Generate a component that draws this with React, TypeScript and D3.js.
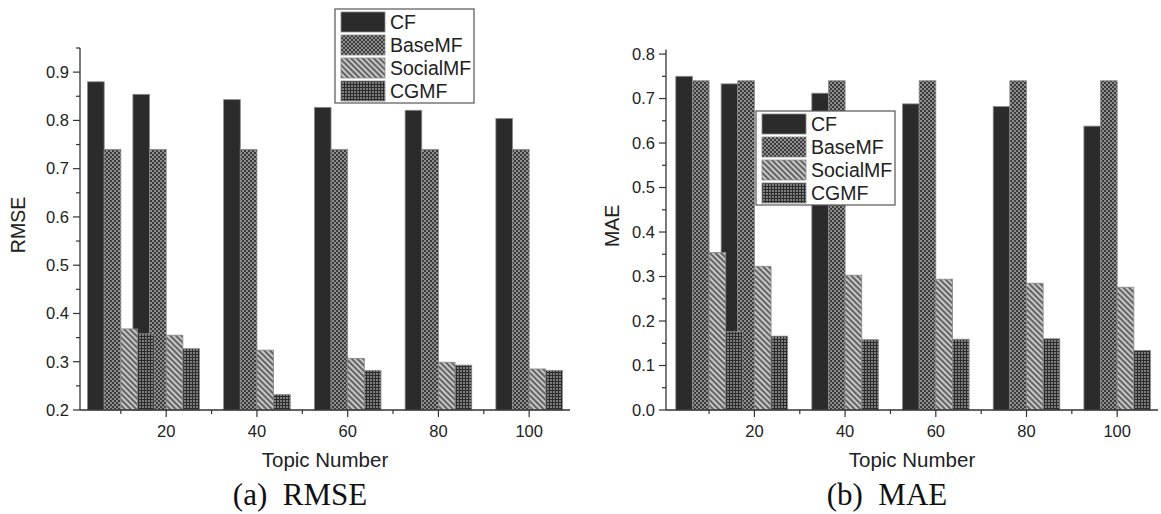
import React from "react";
import * as d3 from "d3";

const topics = [10, 20, 40, 60, 80, 100];
const seriesNames = ["CF", "BaseMF", "SocialMF", "CGMF"];
const xMajorTicks = [20, 40, 60, 80, 100];
const xMinorTicks = [10, 30, 50, 70, 90];

const rmseCF = [0.880, 0.854, 0.843, 0.827, 0.821, 0.804];
const rmseBaseMF = [0.740, 0.740, 0.740, 0.740, 0.740, 0.740];
const rmseSocialMF = [0.368, 0.355, 0.324, 0.307, 0.299, 0.285];
const rmseCGMF = [0.358, 0.327, 0.232, 0.282, 0.293, 0.282];

const maeCF = [0.750, 0.733, 0.712, 0.688, 0.682, 0.638];
const maeBaseMF = [0.740, 0.740, 0.740, 0.740, 0.740, 0.740];
const maeSocialMF = [0.354, 0.323, 0.303, 0.294, 0.285, 0.276];
const maeCGMF = [0.176, 0.166, 0.158, 0.159, 0.160, 0.134];

const rmseYMajor = [0.2, 0.3, 0.4, 0.5, 0.6, 0.7, 0.8, 0.9];
const rmseYMinor = [0.25, 0.35, 0.45, 0.55, 0.65, 0.75, 0.85, 0.95];
const maeYMajor = [0.0, 0.1, 0.2, 0.3, 0.4, 0.5, 0.6, 0.7, 0.8];
const maeYMinor = [0.05, 0.15, 0.25, 0.35, 0.45, 0.55, 0.65, 0.75];

const BAR_UNITS = 3.67;
const fills = ["#2b2b2b", "url(#pBase)", "url(#pSocial)", "url(#pCGMF)"];
const SANS = "'Liberation Sans', Arial, sans-serif";
const SERIF = "'Liberation Serif', 'Times New Roman', serif";

type PanelProps = {
  xScale: d3.ScaleLinear<number, number>;
  yScale: d3.ScaleLinear<number, number>;
  data: number[][];
  yMajor: number[];
  yMinor: number[];
  yLabel: string;
  yLabelX: number;
  title: string;
  titleX: number;
  legendX: number;
  legendY: number;
};

function Panel({ xScale, yScale, data, yMajor, yMinor, yLabel, yLabelX, title, titleX, legendX, legendY }: PanelProps) {
  const [x0, x1] = xScale.range();
  const [yb, yt] = yScale.range();
  const base = yScale.domain()[0];
  const bw = xScale(BAR_UNITS) - xScale(0);
  const axisColor = "#333";
  const cx = (x0 + x1) / 2;
  return (
    <g>
      {data.map((vals, s) => (
        <g key={s}>
          {vals.map((v, i) => {
            const left = xScale(topics[i] - 2 * BAR_UNITS + s * BAR_UNITS);
            return (
              <rect
                key={i}
                x={left}
                y={yScale(v)}
                width={bw}
                height={yScale(base) - yScale(v)}
                fill={fills[s]}
                stroke="#8a8a8a"
                strokeWidth={0.8}
              />
            );
          })}
        </g>
      ))}
      <line x1={x0} x2={x0} y1={yt} y2={yb} stroke={axisColor} strokeWidth={1.3} />
      <line x1={x0} x2={x1} y1={yb} y2={yb} stroke={axisColor} strokeWidth={1.3} />
      {yMajor.map((t) => (
        <g key={"ym" + t}>
          <line x1={x0 - 7} x2={x0} y1={yScale(t)} y2={yScale(t)} stroke={axisColor} strokeWidth={1.2} />
          <text x={x0 - 11} y={yScale(t)} dy="0.35em" textAnchor="end" fontFamily={SANS} fontSize={16.5} fill="#222">
            {t.toFixed(1)}
          </text>
        </g>
      ))}
      {yMinor.map((t) => (
        <line key={"yn" + t} x1={x0 - 4} x2={x0} y1={yScale(t)} y2={yScale(t)} stroke={axisColor} strokeWidth={1.2} />
      ))}
      {xMajorTicks.map((t) => (
        <g key={"xm" + t}>
          <line x1={xScale(t)} x2={xScale(t)} y1={yb} y2={yb + 7} stroke={axisColor} strokeWidth={1.2} />
          <text x={xScale(t)} y={yb + 27} textAnchor="middle" fontFamily={SANS} fontSize={16.5} fill="#222">
            {t}
          </text>
        </g>
      ))}
      {xMinorTicks.map((t) => (
        <line key={"xn" + t} x1={xScale(t)} x2={xScale(t)} y1={yb} y2={yb + 4} stroke={axisColor} strokeWidth={1.2} />
      ))}
      <text x={cx} y={yb + 57} textAnchor="middle" fontFamily={SANS} fontSize={20.5} fill="#222">
        Topic Number
      </text>
      <text
        transform={`translate(${yLabelX},${(yb + yt) / 2 - 4}) rotate(-90)`}
        textAnchor="middle"
        fontFamily={SANS}
        fontSize={19.5}
        fill="#222"
      >
        {yLabel}
      </text>
      <text x={titleX} y={yb + 95} textAnchor="middle" fontFamily={SERIF} fontSize={31} fill="#111" style={{ whiteSpace: "pre" }}>
        {title}
      </text>
      <g transform={`translate(${legendX},${legendY})`}>
        <rect x={0} y={0} width={139} height={94} fill="#fff" stroke="#555" strokeWidth={1.2} />
        {seriesNames.map((n, s) => (
          <g key={n} transform={`translate(6,${3 + s * 23})`}>
            <rect x={0} y={0} width={44} height={20} fill={fills[s]} stroke="#8a8a8a" strokeWidth={0.8} />
            <text x={49} y={10} dy="0.36em" fontFamily={SANS} fontSize={19.5} fill="#222">
              {n}
            </text>
          </g>
        ))}
      </g>
    </g>
  );
}

export default function App() {
  const xL = d3.scaleLinear().domain([1, 109]).range([80, 570]);
  const yL = d3.scaleLinear().domain([0.2, 0.95]).range([410, 48]);
  const xR = d3.scaleLinear().domain([0.5, 109]).range([666, 1158]);
  const yR = d3.scaleLinear().domain([0, 0.81]).range([410, 49.6]);
  return (
    <svg width={1161} height={514} style={{ position: "absolute", left: 0, top: 0, background: "#fff" }}>
      <defs>
        <pattern id="pBase" width={4} height={4} patternUnits="userSpaceOnUse">
          <rect width={4} height={4} fill="#3c3c3c" />
          <rect x={0} y={0} width={2} height={2} fill="#8e8e8e" />
          <rect x={2} y={2} width={2} height={2} fill="#8e8e8e" />
        </pattern>
        <pattern id="pSocial" width={4} height={4} patternUnits="userSpaceOnUse" patternTransform="rotate(45)">
          <rect width={4} height={4} fill="#c6c6c6" />
          <line x1={0} x2={4} y1={1} y2={1} stroke="#2e2e2e" strokeWidth={1.3} />
        </pattern>
        <pattern id="pCGMF" width={3} height={3} patternUnits="userSpaceOnUse">
          <rect width={3} height={3} fill="#7c7c7c" />
          <line x1={0} x2={3} y1={0.5} y2={0.5} stroke="#2c2c2c" strokeWidth={1} />
          <line x1={0.5} x2={0.5} y1={0} y2={3} stroke="#2c2c2c" strokeWidth={1} />
        </pattern>
      </defs>
      <Panel
        xScale={xL}
        yScale={yL}
        data={[rmseCF, rmseBaseMF, rmseSocialMF, rmseCGMF]}
        yMajor={rmseYMajor}
        yMinor={rmseYMinor}
        yLabel="RMSE"
        yLabelX={25}
        title="(a)  RMSE"
        titleX={300}
        legendX={335}
        legendY={9}
      />
      <Panel
        xScale={xR}
        yScale={yR}
        data={[maeCF, maeBaseMF, maeSocialMF, maeCGMF]}
        yMajor={maeYMajor}
        yMinor={maeYMinor}
        yLabel="MAE"
        yLabelX={619}
        title="(b)  MAE"
        titleX={887}
        legendX={756}
        legendY={111}
      />
    </svg>
  );
}
